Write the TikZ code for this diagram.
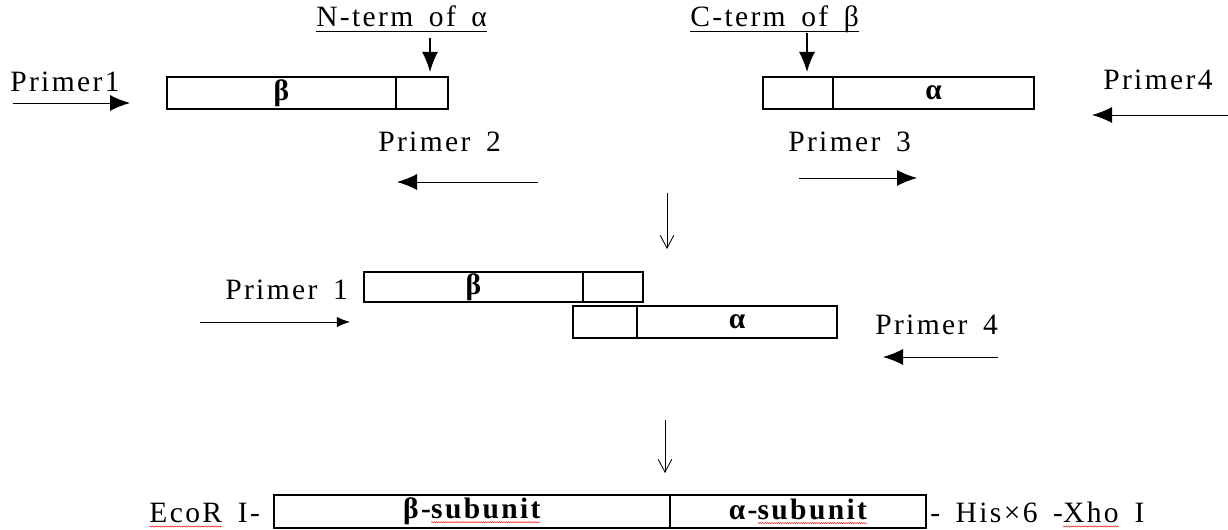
\documentclass[tikz,border=0pt]{standalone}
\usepackage{fontspec}
\setmainfont{Liberation Serif}[LetterSpace=8, WordSpace=1.6]
\usepackage{tikz}
\usetikzlibrary{arrows.meta, positioning, decorations.pathmorphing}

\newcommand{\lab}{\fontsize{21}{25}\selectfont}
% gạch đỏ lượn sóng dưới từ
\newcommand{\spell}[1]{\tikz[baseline=(sp.base)]{%
    \node[inner sep=0pt, outer sep=0pt, minimum width=0pt, minimum height=0pt, draw=none] (sp) {#1};
    \draw[red, line width=0.3pt, decorate, decoration={snake, amplitude=0.45pt, segment length=1.6pt}]
        ([yshift=-2.5pt]sp.base west) -- ([yshift=-2.5pt]sp.base east);}}

\begin{document}
\begin{tikzpicture}[>={Latex[length=5mm,width=4mm]}, font=\lab,
    seg/.style={draw, line width=0.9pt, inner sep=0pt, outer sep=0pt, minimum height=0.8cm, font=\lab\bfseries},
    lbl/.style={inner sep=0pt, anchor=base west},
    primer/.style={->, line width=0.7pt},
    flow/.style={-{Straight Barb[length=3.2mm,width=3.4mm]}, line width=0.6pt}]
    \useasboundingbox (0,0) rectangle (30.7,13.25);

    % Hai đoạn gen ban đầu
    \node[seg, anchor=north west, minimum width=5.725cm] (b1) at (4.175,11.325) {β};
    \node[seg, minimum width=1.3cm, right=0pt of b1] (b1s) {};
    \node[seg, anchor=north west, minimum width=1.75cm] (a1s) at (19.075,11.325) {};
    \node[seg, minimum width=5.025cm, right=0pt of a1s] (a1) {α};

    % Đầu N và đầu C
    \node[lbl] (nterm) at (7.9,12.575) {N-term of α};
    \draw[line width=0.6pt] ([yshift=-3.5pt]nterm.base west) -- ([yshift=-3.5pt]nterm.base east);
    \coordinate (nt) at (10.75,12.3);
    \draw[->, line width=1pt] (nt) -- ([yshift=1.25mm]nt |- b1s.north);
    \node[lbl] (cterm) at (17.25,12.575) {C-term of β};
    \draw[line width=0.6pt] ([yshift=-3.5pt]cterm.base west) -- ([yshift=-3.5pt]cterm.base east);
    \coordinate (ct) at (20.175,12.425);
    \draw[->, line width=1pt] (ct) -- ([yshift=1.25mm]ct |- a1s.north);

    % Các mồi của bước 1
    \node[lbl] (p1) at (0.25,10.95) {Primer1};
    \coordinate (p1a) at (0.325,10.675);
    \coordinate (p1b) at (3.25,10.675);
    \draw[primer] (p1a) -- (p1b);
    \node[lbl] (p2) at (9.45,9.45) {Primer 2};
    \coordinate (p2a) at (13.45,8.7);
    \coordinate (p2b) at (9.925,8.7);
    \draw[primer] (p2a) -- (p2b);
    \node[lbl] (p3) at (19.7,9.45) {Primer 3};
    \coordinate (p3a) at (19.975,8.8);
    \coordinate (p3b) at (22.925,8.8);
    \draw[primer] (p3a) -- (p3b);
    \node[lbl] (p4) at (27.575,11.0) {Primer4};
    \coordinate (p4a) at (30.7,10.375);
    \coordinate (p4b) at (27.3,10.375);
    \draw[primer] (p4a) -- (p4b);

    \coordinate (d1a) at (16.675,8.425);
    \coordinate (d1b) at (16.675,7.025);
    \draw[flow] (d1a) -- (d1b);

    % Bước 2: hai đoạn chồng lên nhau
    \node[seg, anchor=north west, minimum width=5.475cm, minimum height=0.75cm] (b2) at (9.1,6.45) {β};
    \node[seg, minimum width=1.5cm, minimum height=0.75cm, right=0pt of b2] (b2s) {};
    \node[seg, anchor=north west, minimum width=1.6cm] (a2s) at (14.325,5.6) {};
    \node[seg, minimum width=5cm, right=0pt of a2s] (a2) {α};
    \node[lbl] (q1) at (5.625,5.75) {Primer 1};
    \coordinate (q1a) at (5.0,5.2);
    \coordinate (q1b) at (8.75,5.2);
    \draw[primer, -{Latex[length=3.3mm,width=2.6mm]}] (q1a) -- (q1b);
    \node[lbl] (q4) at (21.875,4.875) {Primer 4};
    \coordinate (q4a) at (24.95,4.325);
    \coordinate (q4b) at (22.075,4.325);
    \draw[primer] (q4a) -- (q4b);

    \coordinate (d2a) at (16.625,2.75);
    \coordinate (d2b) at (16.625,1.425);
    \draw[flow] (d2a) -- (d2b);

    % Gen dung hợp
    \node[seg, anchor=north west, minimum width=9.9cm, minimum height=0.825cm] (b3) at (6.85,0.875) {β-\spell{subunit}};
    \node[seg, minimum width=6.4cm, minimum height=0.825cm, right=0pt of b3] (a3) {α-\spell{subunit}};
    \node[lbl] (ecor) at (3.725,0.175) {\spell{EcoR} I-};
    \node[lbl] (xho) at (23.25,0.175) {- His×6 -\spell{Xho} I};
\end{tikzpicture}
\end{document}
